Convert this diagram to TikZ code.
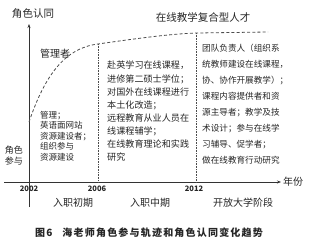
\documentclass[tikz,border=0pt]{standalone}
\usepackage{fontspec}
\newfontfamily\cjk{Noto Sans CJK SC}
\newfontfamily\cjkcap{Noto Sans CJK SC}[LetterSpace=12]
\usetikzlibrary{arrows.meta}
\tikzset{
  axisline/.style={line width=0.7pt, draw=black!80, -{Stealth[length=4pt,width=3pt]}},
  trend/.style={draw=black!70, line width=0.8pt, dash pattern=on 3pt off 2.2pt},
  divider/.style={draw=black!70, line width=0.6pt, dash pattern=on 0.7pt off 0.9pt},
  lbl/.style={inner sep=0, text=black!85, font=\cjk\fontsize{10}{12}\selectfont},
  col/.style={inner sep=0, anchor=north west, align=left, text=black!85},
  yearlbl/.style={inner sep=0, font=\cjk\bfseries\fontsize{7.5}{9}\selectfont, text=black!85},
}
\begin{document}
\begin{tikzpicture}[x=1pt,y=-1pt]
\useasboundingbox (0,0) rectangle (323,242);
\fill[white] (0,0) rectangle (323,242);

% axes
\coordinate (ybot) at (29,207);
\coordinate (ytop) at (29,24);
\coordinate (xl) at (4,182);
\coordinate (xr) at (281,182);
\draw[axisline] (ybot) -- (ytop);
\draw[axisline] (xl) -- (xr);
\node[lbl, anchor=west] (xlab) at (283,182) {年份};
\node[lbl, font=\cjk\fontsize{10.5}{12}\selectfont] (ylab) at (33,14) {角色认同};
\node[lbl, align=center, font=\cjk\fontsize{9}{11}\selectfont] (ylow) at (14,156) {角色\\参与};

% trend curve
\coordinate (c0) at (29,122);
\coordinate (c1) at (98,44);
\coordinate (c2) at (196,33);
\coordinate (c3) at (268,32);
\draw[trend] (c0) .. controls (45,75) and (65,48) .. (c1)
  .. controls (140,38) and (170,34) .. (c2) -- (c3);

% dividers
\coordinate (d1) at (98,182);
\coordinate (d2) at (196,182);
\draw[divider] (c1) -- (d1);
\draw[divider] (c2) -- (d2);

% role labels
\node[lbl] (mgr) at (55,54) {管理者};
\node[lbl, font=\cjk\fontsize{10.5}{12}\selectfont] (top) at (203,17) {在线教学复合型人才};

% column texts
\node[col, font=\cjk\fontsize{8.5}{10.5}\selectfont] (colA) at (40,111)
  {管理；\\英语面网站\\资源建设者；\\组织参与\\资源建设};
\node[col, font=\cjk\fontsize{9.1}{13.1}\selectfont] (colB) at (107,61)
  {赴英学习在线课程，\\进修第二硕士学位；\\对国外在线课程进行\\本土化改造；\\远程教育从业人员在\\线课程辅学；\\在线教育理论和实践\\研究};
\node[col, font=\cjk\fontsize{8.6}{16}\selectfont] (colC) at (202,44)
  {团队负责人（组织系\\统教师建设在线课程，\\协、协作开展教学）；\\课程内容提供者和资\\源主导者；教学及技\\术设计；参与在线学\\习辅导、促学者；\\做在线教育行动研究};

% years
\node[yearlbl] (y1) at (29,189) {2002};
\node[yearlbl] (y2) at (97,189) {2006};
\node[yearlbl] (y3) at (194,189) {2012};

% stages
\node[lbl] (s1) at (73,203) {入职初期};
\node[lbl] (s2) at (150,203) {入职中期};
\node[lbl] (s3) at (243,203) {开放大学阶段};

% caption
\node[inner sep=0, anchor=west, text=black!85, font=\cjkcap\bfseries\fontsize{10}{12}\selectfont] (cap) at (35,233)
  {图6\hspace{10pt}海老师角色参与轨迹和角色认同变化趋势};
\end{tikzpicture}
\end{document}
